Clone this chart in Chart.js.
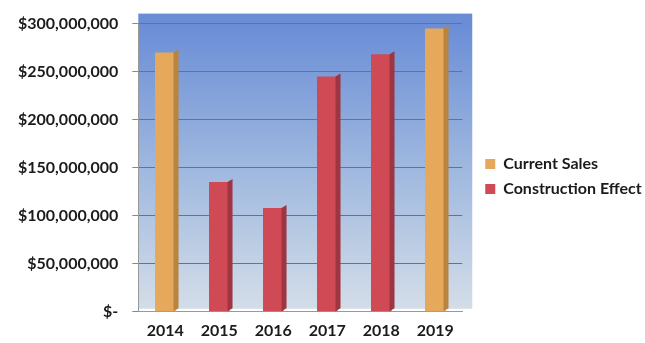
<!DOCTYPE html>
<html>
<head>
<meta charset="utf-8">
<script src="https://cdn.jsdelivr.net/npm/chart.js@4"></script>
<style>
  html, body { margin: 0; padding: 0; background: #fff; }
  #wrap { width: 645px; height: 343px; }
</style>
</head>
<body>
<div id="wrap"><canvas id="salesChart" width="645" height="343"></canvas></div>
<script>
// data
const years = ["2014", "2015", "2016", "2017", "2018", "2019"];
const currentSales = [270000000, null, null, null, null, 295000000];
const constructionEffect = [null, 135000000, 108000000, 245000000, 268000000, null];
const yTicks = [0, 50000000, 100000000, 150000000, 200000000, 250000000, 300000000];

function money(v) {
  if (v === 0) return "$-";
  return "$" + v.toLocaleString("en-US");
}

// blue wall behind the bars
const wallPlugin = {
  id: 'wall',
  beforeDraw(chart) {
    const a = chart.chartArea;
    const ctx = chart.ctx;
    const g = ctx.createLinearGradient(0, a.top, 0, a.bottom);
    g.addColorStop(0, '#6a8dd6');
    g.addColorStop(0.5, '#9fb8df');
    g.addColorStop(1, '#d4dee8');
    ctx.save();
    ctx.fillStyle = g;
    ctx.fillRect(a.left, a.top - 10, a.right - a.left + 10, a.bottom - a.top + 7);
    ctx.restore();
  }
};

// push legend away from the plot (the layout padding on the right makes the room)
const legendShift = {
  id: 'legendShift',
  afterLayout(chart) {
    const lg = chart.legend;
    lg.left += 14;
    lg.right = chart.width;
    lg.width = lg.right - lg.left;
  }
};

// darker side face so bars look a bit 3d
const sidePlugin = {
  id: 'side',
  afterDatasetsDraw(chart) {
    const ctx = chart.ctx;
    const sides = ['#b8843e', '#9e3540'];
    chart.data.datasets.forEach(function(ds, i) {
      chart.getDatasetMeta(i).data.forEach(function(bar, j) {
        if (ds.data[j] == null) return;
        const half = bar.width / 2;
        const x = bar.x + half;
        ctx.save();
        ctx.fillStyle = sides[i];
        ctx.beginPath();
        ctx.moveTo(x - 2, bar.y);
        ctx.lineTo(x + 3, bar.y - 3);
        ctx.lineTo(x + 3, bar.base - 3);
        ctx.lineTo(x - 2, bar.base);
        ctx.closePath();
        ctx.fill();
        ctx.restore();
      });
    });
  }
};

const ctx = document.getElementById('salesChart').getContext('2d');
new Chart(ctx, {
  type: 'bar',
  data: {
    labels: years,
    datasets: [{
      label: 'Current Sales',
      data: currentSales,
      backgroundColor: '#e6a95c',
      borderWidth: 0
    }, {
      label: 'Construction Effect',
      data: constructionEffect,
      backgroundColor: '#d04a55',
      borderWidth: 0
    }]
  },
  options: {
    responsive: false,
    animation: false,
    layout: { padding: { top: 10, left: 4, right: 30, bottom: 0 } },
    datasets: {
      bar: { grouped: false, barPercentage: 0.38, categoryPercentage: 1 }
    },
    plugins: {
      legend: {
        position: 'right',
        labels: {
          boxWidth: 10,
          boxHeight: 10,
          padding: 9,
          color: '#1b1b1b',
          font: { family: 'Lato', weight: 'bold', size: 16 }
        }
      },
      tooltip: { enabled: false }
    },
    scales: {
      y: {
        min: 0,
        max: 300000000,
        afterBuildTicks(axis) {
          axis.ticks = yTicks.map(function(v) { return { value: v }; });
        },
        ticks: {
          callback: function(v) { return money(v); },
          color: '#1b1b1b',
          padding: 14,
          font: { family: 'Lato', weight: 'bold', size: 16 }
        },
        grid: { color: '#6b7280', lineWidth: 1, tickLength: 6, tickColor: '#888' },
        border: { color: '#999' }
      },
      x: {
        ticks: {
          color: '#1b1b1b',
          padding: 3,
          font: { family: 'Lato', weight: 'bold', size: 16 }
        },
        grid: { display: false, tickLength: 6 },
        border: { color: '#999' }
      }
    }
  },
  plugins: [wallPlugin, sidePlugin, legendShift]
});
</script>
</body>
</html>
